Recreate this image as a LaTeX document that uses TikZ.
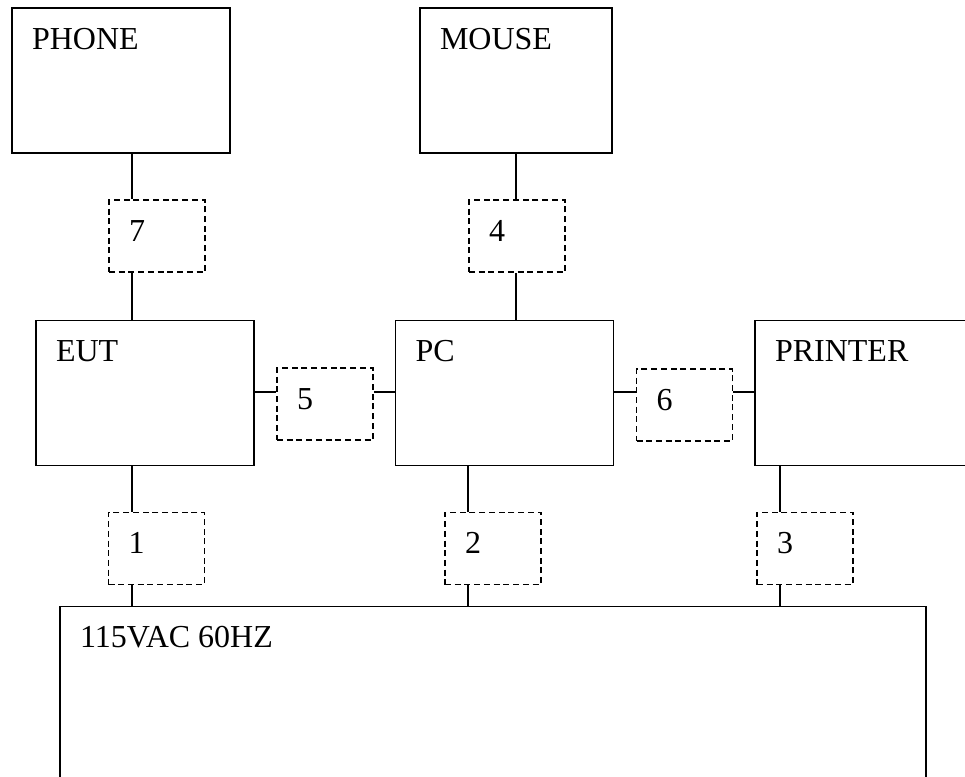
\documentclass[tikz,border=0pt]{standalone}
\usepackage{fontspec}
\setmainfont{Liberation Serif}

\begin{document}
\begin{tikzpicture}[x=0.75pt,y=-0.75pt,line width=1.2pt,
  font=\fontsize{24}{28}\selectfont,
  unit/.style={draw, inner sep=0pt, minimum width=163.5pt, minimum height=109pt},
  cable/.style={draw, dash pattern=on 4.5pt off 2.8pt, inner sep=0pt,
    minimum width=72pt, minimum height=54pt},
  tag/.style={anchor=base west, inner sep=0pt, xshift=15pt, yshift=-31.5pt}]
\useasboundingbox (0,0) rectangle (965,776);
\clip (0,0) rectangle (965,776);
\node[unit, label={[tag]north west:PHONE}] (phone) at (121,80.5) {};
\node[unit, minimum width=144pt, label={[tag]north west:MOUSE}] (mouse) at (516,80.5) {};
\node[unit, label={[tag]north west:EUT}] (eut) at (145,393) {};
\node[unit, label={[tag]north west:PC}] (pc) at (504.5,393) {};
\node[unit, label={[tag]north west:PRINTER}] (printer) at (864,393) {};
\node[unit, minimum width=649.5pt, minimum height=200pt,
  label={[tag]north west:115VAC 60HZ}] (mains) at (493,740) {};
\node[cable, label={[tag]north west:7}] (d7) at (157,236) {};
\node[cable, label={[tag]north west:4}] (d4) at (517,236) {};
\node[cable, label={[tag]north west:5}] (d5) at (325,404) {};
\node[cable, label={[tag]north west:6}] (d6) at (684.5,405) {};
\node[cable, label={[tag]north west:1}] (d1) at (156.5,548.5) {};
\node[cable, label={[tag]north west:2}] (d2) at (493,548.5) {};
\node[cable, label={[tag]north west:3}] (d3) at (805,548.5) {};
\coordinate (c1) at (132,0);
\coordinate (c2) at (468,0);
\coordinate (c3) at (780,0);
\coordinate (c4) at (516,0);
\coordinate (r1) at (0,392);
\draw (phone.south -| c1) -- (d7.north -| c1);
\draw (d7.south -| c1) -- (eut.north -| c1);
\draw (mouse.south -| c4) -- (d4.north -| c4);
\draw (d4.south -| c4) -- (pc.north -| c4);
\draw (eut.east |- r1) -- (d5.west |- r1);
\draw (d5.east |- r1) -- (pc.west |- r1);
\draw (pc.east |- r1) -- (d6.west |- r1);
\draw (d6.east |- r1) -- (printer.west |- r1);
\foreach \a/\b/\c in {eut/d1/c1, pc/d2/c2, printer/d3/c3}
  \draw (\a.south -| \c) -- (\b.north -| \c) (\b.south -| \c) -- (mains.north -| \c);
\end{tikzpicture}
\end{document}
